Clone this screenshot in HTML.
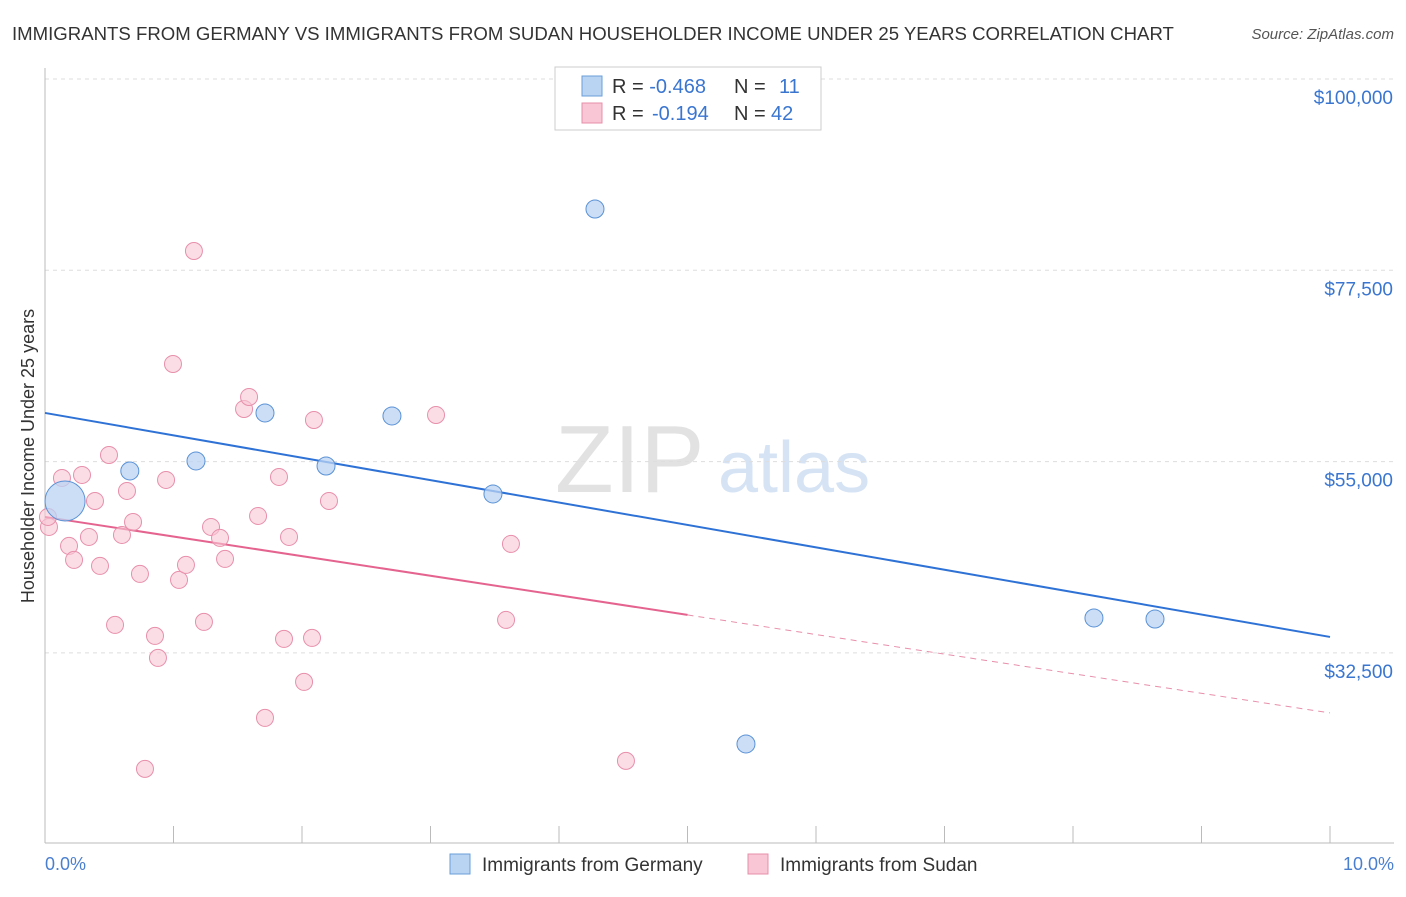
<!DOCTYPE html>
<html><head><meta charset="utf-8"><style>
body{margin:0;background:#fff;font-family:"Liberation Sans",sans-serif;}
svg text{font-family:"Liberation Sans",sans-serif;}
</style></head><body>
<svg id="chart" width="1406" height="892" xmlns="http://www.w3.org/2000/svg">
<text x="12" y="40" font-size="18.6" fill="#333">IMMIGRANTS FROM GERMANY VS IMMIGRANTS FROM SUDAN HOUSEHOLDER INCOME UNDER 25 YEARS CORRELATION CHART</text>
<text x="1394" y="39" font-size="15" fill="#555" font-style="italic" text-anchor="end">Source: ZipAtlas.com</text>
<text x="555" y="492" font-size="96" fill="#e2e2e2" font-family="Liberation Serif">ZIP</text>
<text x="718" y="492" font-size="72" fill="#d5e3f5">atlas</text>
<g id="grid"></g><g id="axes"></g><g id="lines"></g><g id="pts"></g>
<text transform="translate(34,456) rotate(-90)" font-size="18" fill="#333" text-anchor="middle">Householder Income Under 25 years</text>
<text x="45" y="870" font-size="18" fill="#4a7fd0">0.0%</text>
<text x="1394" y="870" font-size="18" fill="#4a7fd0" text-anchor="end">10.0%</text>
<g>
<rect x="555" y="67" width="266" height="63" fill="#fff" stroke="#ccc"/>
<rect x="582" y="76" width="20" height="20" fill="#b9d3f3" stroke="#6a9fd9"/>
<rect x="582" y="103" width="20" height="20" fill="#f9c6d6" stroke="#e88fab"/>
<text x="612" y="93" font-size="20" fill="#333">R = <tspan fill="#3a76d0">-0.468</tspan><tspan x="734">N = </tspan><tspan x="779" fill="#3a76d0">11</tspan></text>
<text x="612" y="120" font-size="20" fill="#333">R = <tspan x="652" fill="#3a76d0">-0.194</tspan><tspan x="734">N = </tspan><tspan x="771" fill="#3a76d0">42</tspan></text>
</g>
<g>
<rect x="450" y="854" width="20" height="20" fill="#b9d3f3" stroke="#6a9fd9"/>
<text x="482" y="871" font-size="19" fill="#333">Immigrants from Germany</text>
<rect x="748" y="854" width="20" height="20" fill="#f9c6d6" stroke="#e88fab"/>
<text x="780" y="871" font-size="19" fill="#333">Immigrants from Sudan</text>
</g>
</svg>
<script>
const yTicks=[100000,77500,55000,32500];
const yTickLabels=["$100,000","$77,500","$55,000","$32,500"];
const germanyX=[0.156,0.66,1.175,1.712,2.187,2.70,3.486,4.28,5.455,8.163,8.638];
const germanyY=[50373,53900,55076,60722,54486,60369,51196,84710,21790,36610,36490];
const sudanX=[0.031,0.023,0.132,0.288,0.187,0.226,0.342,0.389,0.428,0.498,0.545,0.599,0.638,0.685,0.739,0.778,0.856,0.879,0.942,0.996,1.043,1.097,1.159,1.237,1.292,1.362,1.401,1.549,1.588,1.658,1.712,1.821,1.860,1.899,2.016,2.078,2.093,2.210,3.043,3.626,3.588,4.521];
const sudanY=[47315,48491,53078,53430,45081,43434,46139,50373,42729,55782,35790,46374,51549,47903,41788,18856,34497,31910,52842,66484,41082,42846,79773,36143,47315,46022,43552,61192,62603,48609,24854,53195,34144,46139,29087,34262,59898,50373,60486,45316,36378,19797];
const germanySize=[20,9,9,9,9,9,9,9,9,9,9];
const germanyLine=[60722,34379];
const sudanLine=[48491,25442];
const sudanSolidEnd=5;
const X=v=>45+v/10*1285;
const Y=v=>79+(100000-v)/22500*191.3;
const NS="http://www.w3.org/2000/svg";
function mk(t,a,p,name){const e=document.createElementNS(NS,t);for(const k in a)e.setAttribute(k,a[k]);


document.getElementById(p).appendChild(e);return e;}
yTicks.forEach((v,i)=>{
mk('line',{x1:45,x2:1394,y1:Y(v),y2:Y(v),stroke:'#ddd','stroke-dasharray':'4,4'},'grid','y-gridline');
const t=mk('text',{x:1393,y:Y(v)+25,'font-size':19,fill:'#3a76d0','text-anchor':'end'},'grid','y-tick-label');t.textContent=yTickLabels[i];});
mk('line',{x1:45,x2:45,y1:68,y2:843,stroke:'#bbb'},'axes','y-axis');
mk('line',{x1:45,x2:1394,y1:843,y2:843,stroke:'#bbb'},'axes','x-axis');
for(let i=0;i<=10;i++)mk('line',{x1:X(i),x2:X(i),y1:826,y2:843,stroke:'#bbb'},'axes','x-tick');
mk('line',{x1:X(0),y1:Y(germanyLine[0]),x2:X(10),y2:Y(germanyLine[1]),stroke:'#2f72d6','stroke-width':2},'lines','germany-trend-line');
const sv=x=>sudanLine[0]+(sudanLine[1]-sudanLine[0])*x/10;
mk('line',{x1:X(0),y1:Y(sv(0)),x2:X(sudanSolidEnd),y2:Y(sv(sudanSolidEnd)),stroke:'#e4648f','stroke-width':2},'lines','sudan-trend-line');
mk('line',{x1:X(sudanSolidEnd),y1:Y(sv(sudanSolidEnd)),x2:X(10),y2:Y(sv(10)),stroke:'#e88fab','stroke-width':1,'stroke-dasharray':'6,5'},'lines','sudan-trend-extension');
sudanX.forEach((x,i)=>mk('circle',{cx:X(x),cy:Y(sudanY[i]),r:8.5,fill:'#f9c6d6','fill-opacity':0.6,stroke:'#e88fab'},'pts','sudan-point'));
germanyX.forEach((x,i)=>mk('circle',{cx:X(x),cy:Y(germanyY[i]),r:germanySize[i],fill:'#b9d3f3','fill-opacity':0.75,stroke:'#5a92d6'},'pts','germany-point'));
</script>
</body></html>
